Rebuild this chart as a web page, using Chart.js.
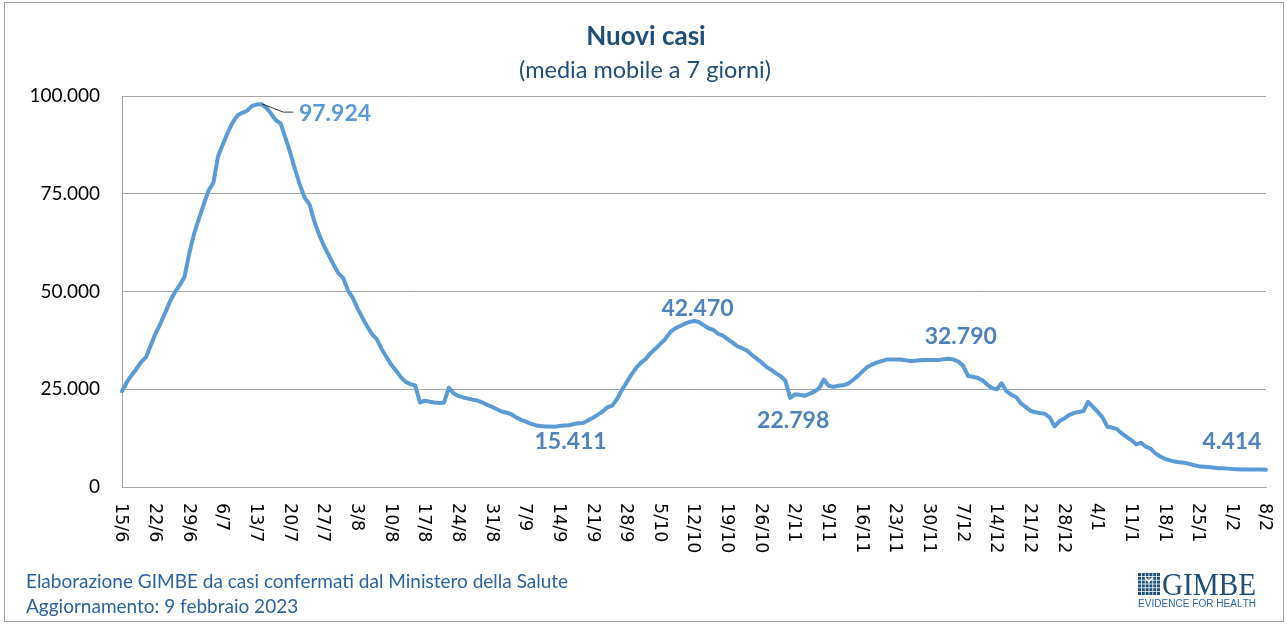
<!DOCTYPE html>
<html>
<head>
<meta charset="utf-8">
<script src="https://cdn.jsdelivr.net/npm/chart.js@4.4.0/dist/chart.umd.min.js"></script>
<style>
  html, body { margin: 0; padding: 0; background: #ffffff; }
  #wrap { position: relative; width: 1287px; height: 625px; }
</style>
</head>
<body>
<div id="wrap"><canvas id="c" width="1287" height="625"></canvas></div>
<script>
// ---------- DATA ----------
// Categories: one per day, 15/6/2022 .. 8/2/2023
const firstDay = { year: 2022, month: 6, day: 15 };
const dayCount = 239;
const categories = [];
(function () {
  const d = new Date(firstDay.year, firstDay.month - 1, firstDay.day);
  for (let i = 0; i < dayCount; i++) {
    categories.push(d.getDate() + '/' + (d.getMonth() + 1));
    d.setDate(d.getDate() + 1);
  }
})();

// Nuovi casi, media mobile a 7 giorni
const newCases = [
  24500, 26800, 28600, 30200, 32000, 33200, 36300, 39300, 41800, 44600,
  47500, 49800, 51600, 53700, 59800, 64800, 68600, 72300, 75800, 77800,
  84600, 87700, 90600, 93200, 95000, 95700, 96200, 97400, 97800, 97924,
  97000, 95500, 93800, 93000, 89300, 85500, 81200, 77300, 74000, 72300,
  68000, 64600, 61700, 59300, 56900, 54700, 53500, 50300, 48400, 45700,
  43300, 41100, 39100, 37800, 35300, 33300, 31300, 29800, 28100, 26900,
  26300, 26000, 21600, 22100, 21800, 21600, 21500, 21600, 25400, 23900,
  23300, 22900, 22600, 22300, 22100, 21600, 21000, 20500, 19900, 19300,
  19000, 18600, 17800, 17200, 16700, 16200, 15800, 15600, 15500, 15450,
  15411, 15600, 15700, 15800, 16100, 16300, 16400, 17100, 17700, 18500,
  19300, 20400, 20800, 22500, 24800, 26800, 28800, 30500, 31800, 32800,
  34300, 35400, 36600, 37800, 39500, 40500, 41100, 41700, 42200, 42470,
  42200, 41400, 40600, 40200, 39200, 38700, 37800, 37000, 36000, 35500,
  34900, 33800, 32900, 31900, 30800, 30000, 29100, 28400, 27200, 22798,
  23700, 23600, 23300, 23800, 24400, 25200, 27500, 25900, 25600, 25900,
  26000, 26400, 27300, 28300, 29500, 30600, 31300, 31800, 32200, 32600,
  32600, 32600, 32600, 32400, 32200, 32300, 32400, 32500, 32500, 32500,
  32500, 32700, 32790, 32600, 32100, 31000, 28400, 28200, 27900, 27300,
  26200, 25300, 25000, 26500, 24500, 23600, 23000, 21400, 20500, 19500,
  19100, 18900, 18700, 17800, 15500, 16800, 17500, 18400, 18900, 19200,
  19400, 21800, 20500, 19200, 17800, 15400, 15200, 14800, 13700, 12800,
  12000, 10900, 11300, 10300, 9800, 8600, 7800, 7200, 6800, 6500,
  6300, 6200, 5900, 5600, 5300, 5200, 5100, 5000, 4800, 4800,
  4700, 4600, 4550, 4500, 4500, 4500, 4500, 4450, 4414
];

// Axis tick labels
const xTickLabels = ['15/6','22/6','29/6','6/7','13/7','20/7','27/7','3/8','10/8','17/8',
  '24/8','31/8','7/9','14/9','21/9','28/9','5/10','12/10','19/10','26/10','2/11','9/11',
  '16/11','23/11','30/11','7/12','14/12','21/12','28/12','4/1','11/1','18/1','25/1','1/2','8/2'];
const yTickValues = [0, 25000, 50000, 75000, 100000];
const yTickLabels = ['0', '25.000', '50.000', '75.000', '100.000'];

// Days that carry a value label
const labelledDays = ['14/7', '13/9', '12/10', '1/11', '4/12', '8/2'];

// Texts
const titleText = 'Nuovi casi';
const subtitleText = '(media mobile a 7 giorni)';
const footerLines = ['Elaborazione GIMBE da casi confermati dal Ministero della Salute',
                     'Aggiornamento: 9 febbraio 2023'];
const logoText = 'GIMBE';
const logoTagline = 'EVIDENCE FOR HEALTH';

// ---------- HELPERS ----------
function fmtIt(n) { return String(Math.round(n)).replace(/\B(?=(\d{3})+(?!\d))/g, '.'); }

// label placement styles (offsets from the point, in px)
const labelStyles = {
  '14/7':  { dx: 37.5, dy: 17, align: 'left', color: '#5b9bd5', leader: true },
  '13/9':  { dx: 16, dy: 22, align: 'center', color: '#4f81bd' },
  '12/10': { dx: 3.5, dy: -5, align: 'center', color: '#4f81bd' },
  '1/11':  { dx: 3, dy: 30, align: 'center', color: '#4f81bd' },
  '4/12':  { dx: 12, dy: -15, align: 'center', color: '#4f81bd' },
  '8/2':   { dx: -34, dy: -21, align: 'center', color: '#4f81bd' }
};

const decorPlugin = {
  id: 'decor',
  beforeDraw(chart) {
    const ctx = chart.ctx;
    ctx.save();
    ctx.fillStyle = '#ffffff';
    ctx.fillRect(0, 0, chart.width, chart.height);
    ctx.restore();
  },
  afterDatasetsDraw(chart) {
    const ctx = chart.ctx;
    const meta = chart.getDatasetMeta(0);
    ctx.save();
    ctx.font = 'bold 23px Lato';
    ctx.textBaseline = 'alphabetic';
    labelledDays.forEach(day => {
      const i = categories.indexOf(day);
      const pt = meta.data[i];
      const st = labelStyles[day];
      if (st.leader) {
        ctx.strokeStyle = '#000000';
        ctx.lineWidth = 0.8;
        ctx.beginPath();
        ctx.moveTo(pt.x + 1, pt.y);
        ctx.lineTo(pt.x + 22, pt.y + 8);
        ctx.lineTo(pt.x + 32, pt.y + 8);
        ctx.stroke();
      }
      ctx.fillStyle = st.color;
      ctx.textAlign = st.align;
      ctx.fillText(fmtIt(newCases[i]), pt.x + st.dx, pt.y + st.dy);
    });
    ctx.restore();
  },
  afterDraw(chart) {
    const ctx = chart.ctx;
    const xs = chart.scales.x;
    const area = chart.chartArea;
    ctx.save();
    // x tick labels, rotated clockwise
    ctx.fillStyle = '#000000';
    ctx.font = '17.5px "DejaVu Sans"';
    ctx.textAlign = 'left';
    ctx.textBaseline = 'middle';
    xTickLabels.forEach(lbl => {
      const i = categories.indexOf(lbl);
      const x = xs.getPixelForValue(i);
      ctx.save();
      ctx.translate(x - 1, area.bottom + 16);
      ctx.rotate(Math.PI / 2);
      ctx.fillText(lbl, 0, 0);
      ctx.restore();
    });
    // Title and subtitle
    ctx.textAlign = 'center';
    ctx.textBaseline = 'alphabetic';
    ctx.fillStyle = '#1f4e79';
    ctx.font = 'bold 26px Lato';
    ctx.fillText(titleText, 646, 45);
    ctx.font = '23.5px Lato';
    ctx.fillText(subtitleText, 645, 78);
    // Footer
    ctx.textAlign = 'left';
    ctx.fillStyle = '#2b62a0';
    ctx.font = '19px Lato';
    ctx.fillText(footerLines[0], 26, 588);
    ctx.fillText(footerLines[1], 26, 613);
    // Logo icon (grid of squares)
    ctx.fillStyle = '#1f4e79';
    const gx = 1138, gy = 573, cell = 3, pitch = 3.8;
    for (let r = 0; r < 6; r++) {
      for (let c = 0; c < 6; c++) {
        ctx.fillRect(gx + c * pitch, gy + r * pitch, cell, cell);
      }
    }
    ctx.strokeStyle = '#ffffff';
    ctx.lineWidth = 1.4;
    ctx.beginPath();
    ctx.moveTo(gx + 7.2, gy + 4.5);
    ctx.lineTo(gx + 10.8, gy + 9);
    ctx.lineTo(gx + 14.5, gy + 4.5);
    ctx.stroke();
    // Logo text
    ctx.fillStyle = '#1f4e79';
    ctx.font = '31px "Liberation Serif"';
    ctx.fillText(logoText, 1162, 594.5, 94);
    // Tagline spread
    ctx.fillStyle = '#2a65a8';
    ctx.font = '10px "Liberation Sans"';
    const chars = logoTagline.split('');
    const widths = chars.map(ch => ctx.measureText(ch).width);
    const natural = widths.reduce((a, b) => a + b, 0);
    const extra = (118 - natural) / (chars.length - 1);
    let tx = 1138;
    chars.forEach((ch, k) => { ctx.fillText(ch, tx, 606.5); tx += widths[k] + extra; });
    // Outer frame
    ctx.strokeStyle = '#a6a6a6';
    ctx.lineWidth = 1;
    ctx.strokeRect(4.5, 2.5, 1279, 619);
    ctx.restore();
  }
};

new Chart(document.getElementById('c'), {
  type: 'line',
  data: {
    labels: categories,
    datasets: [{
      label: 'Nuovi casi',
      data: newCases,
      borderColor: '#5b9bd5',
      backgroundColor: '#5b9bd5',
      borderWidth: 4,
      pointRadius: 0,
      pointHoverRadius: 0,
      tension: 0,
      fill: false,
      borderJoinStyle: 'round',
      borderCapStyle: 'round'
    }]
  },
  options: {
    responsive: false,
    animation: false,
    devicePixelRatio: 1,
    layout: { padding: { top: 96, right: 21, bottom: 0, left: 0 } },
    plugins: { legend: { display: false }, tooltip: { enabled: false }, title: { display: false } },
    scales: {
      x: {
        type: 'category',
        offset: false,
        grid: { display: false, drawTicks: false },
        border: { display: true, color: '#a6a6a6', width: 1 },
        ticks: { display: false },
        afterFit(s) { s.height = 138; }
      },
      y: {
        min: 0,
        max: 100000,
        afterBuildTicks(s) { s.ticks = yTickValues.map(v => ({ value: v })); },
        grid: { color: '#a6a6a6', lineWidth: 1, drawTicks: false },
        border: { display: true, color: '#a6a6a6', width: 1 },
        ticks: {
          padding: 22,
          color: '#000000',
          font: { family: 'Lato', size: 19 },
          callback(v) { const k = yTickValues.indexOf(v); return k >= 0 ? yTickLabels[k] : ''; }
        },
        afterFit(s) { s.width = 122; }
      }
    }
  },
  plugins: [decorPlugin]
});
</script>
</body>
</html>
